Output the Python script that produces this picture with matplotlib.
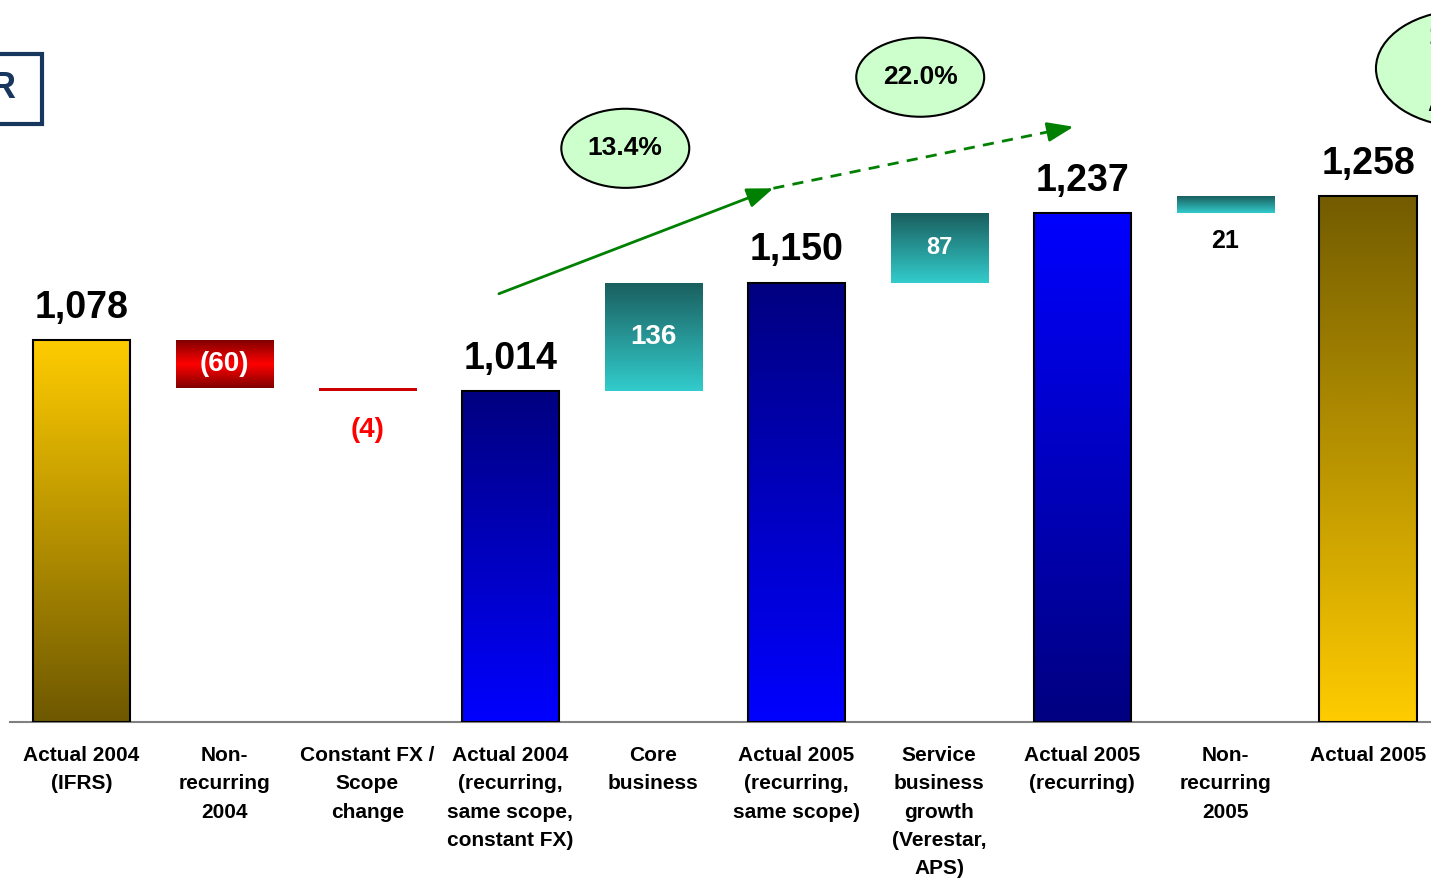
import matplotlib
matplotlib.use("Agg")
import matplotlib.pyplot as plt
from matplotlib.colors import LinearSegmentedColormap
from matplotlib.patches import Ellipse, Rectangle
import numpy as np

plt.rcParams['font.family'] = ['Liberation Sans', 'DejaVu Sans']
plt.rcParams['font.weight'] = 'bold'

# data
categories = ["Actual 2004\n(IFRS)", "Non-\nrecurring\n2004", "Constant FX /\nScope\nchange",
              "Actual 2004\n(recurring,\nsame scope,\nconstant FX)", "Core\nbusiness",
              "Actual 2005\n(recurring,\nsame scope)", "Service\nbusiness\ngrowth\n(Verestar,\nAPS)",
              "Actual 2005\n(recurring)", "Non-\nrecurring\n2005", "Actual 2005"]
values = [1078, -60, -4, 1014, 136, 1150, 87, 1237, 21, 1258]
kinds = ["total", "delta", "delta", "total", "delta", "total", "delta", "total", "delta", "total"]
growth_labels = ["13.4%", "22.0%"]
y_floor = 600

# gradient colours, top -> bottom
fills = [["#FFCC00", "#6E5800"],
         ["#800000", "#FF0000", "#800000"],
         ["#CC0000", "#CC0000"],
         ["#000080", "#0000FF"],
         ["#1A5E5E", "#33CCCC"],
         ["#000080", "#0000FF"],
         ["#1A5E5E", "#33CCCC"],
         ["#0000FF", "#000080"],
         ["#1A5E5E", "#33CCCC"],
         ["#735C00", "#FFCC00"]]
edged = [True, False, False, True, False, True, False, True, False, True]

fig = plt.figure(figsize=(14.31, 8.81), dpi=100)
ax = fig.add_axes([10 / 1431, 1 - 722 / 881, 1 - 10 / 1431, 722 / 881])

x = np.arange(len(values))
bottoms = []
heights = []
running = 0
for v, k in zip(values, kinds):
    if k == "total":
        bottoms.append(y_floor)
        heights.append(v - y_floor)
        running = v
    else:
        bottoms.append(running + min(v, 0))
        heights.append(abs(v))
        running += v

bars = ax.bar(x, heights, bottom=bottoms, width=0.68, facecolor="none",
              edgecolor=["black" if e else "none" for e in edged], linewidth=1.5, zorder=3)

for b, cols in zip(bars, fills):
    cmap = LinearSegmentedColormap.from_list("g", cols)
    grad = np.linspace(0, 1, 256).reshape(-1, 1)
    x0 = b.get_x()
    x1 = x0 + b.get_width()
    y0 = b.get_y()
    y1 = y0 + b.get_height()
    im = ax.imshow(grad, cmap=cmap, extent=(x0, x1, y0, y1), origin="upper",
                   aspect="auto", zorder=2, interpolation="bilinear")
    im.set_clip_path(b)

# value labels
for i, (v, k, b) in enumerate(zip(values, kinds, bars)):
    cx = b.get_x() + b.get_width() / 2
    top = b.get_y() + b.get_height()
    txt = "{:,}".format(v) if v >= 0 else "({})".format(-v)
    if k == "total":
        ax.annotate(txt, (cx, top), xytext=(0, 16), textcoords="offset points",
                    ha="center", va="baseline", fontsize=27, color="black")
    elif i in (2, 8):
        col = "#FF0000" if v < 0 else "black"
        size = 20 if v < 0 else 18
        off = -33 if v < 0 else -25
        ax.annotate(txt, (cx, b.get_y()), xytext=(0, off), textcoords="offset points",
                    ha="center", va="baseline", fontsize=size, color=col)
    else:
        size = 17 if i == 6 else 20
        ax.text(cx, b.get_y() + b.get_height() / 2, txt, ha="center", va="center",
                fontsize=size, color="white", zorder=4)

# growth arrows
ax.annotate("", xy=(4.84, 1268), xytext=(2.92, 1136),
            arrowprops=dict(arrowstyle="-|>,head_length=0.8,head_width=0.3",
                            color="#008000", lw=2, mutation_scale=20, shrinkA=0, shrinkB=0))
ax.plot([4.84, 6.80], [1268, 1340], color="#008000", lw=2, ls=(0, (4, 3)))
ax.annotate("", xy=(6.94, 1345), xytext=(6.80, 1340),
            arrowprops=dict(arrowstyle="-|>,head_length=0.8,head_width=0.3",
                            color="#008000", lw=2, mutation_scale=20, shrinkA=0, shrinkB=0))

ell_pos = [(3.804, 1318), (5.867, 1407)]
for (ex, ey), lab in zip(ell_pos, growth_labels):
    ax.add_patch(Ellipse((ex, ey), 0.895, 99, facecolor="#CCFFCC", edgecolor="black", lw=1.5, zorder=5))
    ax.text(ex, ey, lab, ha="center", va="center", fontsize=19, zorder=6)

ax.add_patch(Ellipse((9.68, 1418), 1.25, 146, facecolor="#CCFFCC", edgecolor="black", lw=1.5, zorder=5))
fig.text(1428 / 1431, 1 - 25 / 881, "1", ha="left", va="top", fontsize=19, zorder=6)
fig.text(1427 / 1431, 1 - 92 / 881, "A", ha="left", va="top", fontsize=19, zorder=6)

# title box (cut off at the left)
fig.patches.append(Rectangle((-0.05, 1 - 124 / 881), 0.05 + 42 / 1431, 70 / 881,
                             transform=fig.transFigure, facecolor="none",
                             edgecolor="#17375E", lw=3))
fig.text(16 / 1431, 1 - 89 / 881, "R", ha="right", va="center", fontsize=26, color="#17375E")

ax.set_xlim(-0.5, 9.44)
ax.set_ylim(y_floor, y_floor + 722 / 0.799)
ax.set_xticks(x)
ax.set_xticklabels(categories, fontsize=15, linespacing=1.63)
ax.tick_params(axis="x", length=0, pad=17)
ax.set_yticks([])
for s in ["top", "right", "left"]:
    ax.spines[s].set_visible(False)
ax.spines["bottom"].set_color("#808080")
ax.spines["bottom"].set_linewidth(1.5)

plt.savefig("out.png", dpi=100)
